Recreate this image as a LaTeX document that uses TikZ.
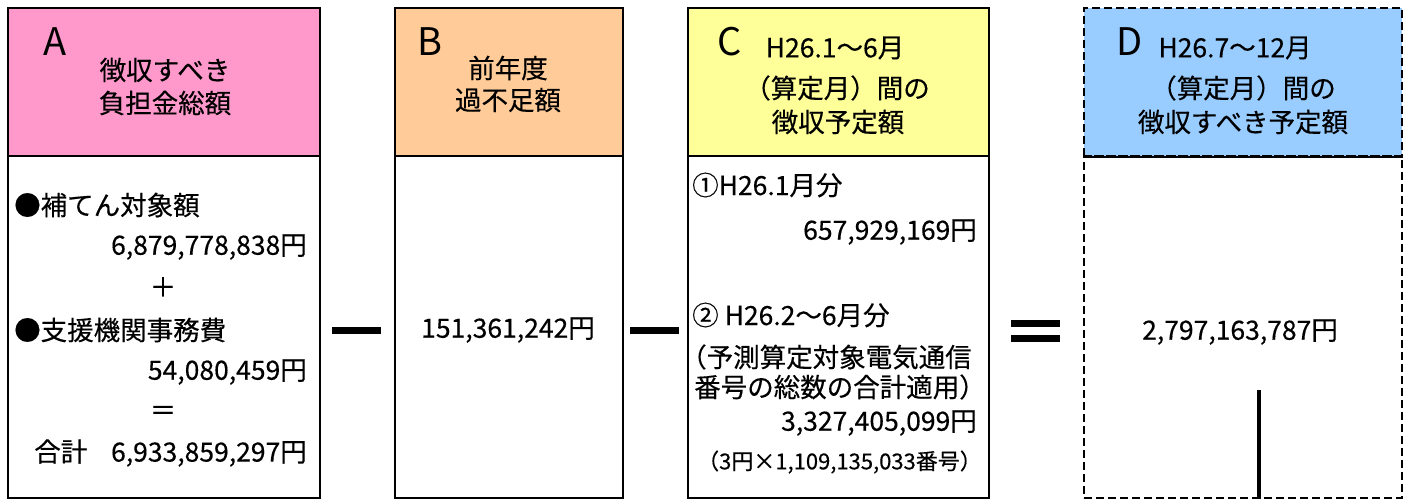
\documentclass[tikz,border=0pt]{standalone}
\usepackage{fontspec}
\setmainfont{Noto Sans CJK JP}
\newfontfamily\jpfont{Noto Sans CJK JP}[FakeBold=0.35]
\definecolor{hpink}{HTML}{FF99CC}
\definecolor{horange}{HTML}{FFCC99}
\definecolor{hyellow}{HTML}{FFFF99}
\definecolor{hblue}{HTML}{99CCFF}
\begin{document}
\begin{tikzpicture}[x=1pt,y=-1pt,
  boxpart/.style={draw, line width=2pt, inner sep=0pt, anchor=north west},
  dashpart/.style={boxpart, dash pattern=on 8pt off 4pt},
  txt/.style={font=\jpfont\fontsize{26.5}{30}\selectfont, inner sep=0pt},
  smalltxt/.style={font=\jpfont\fontsize{22}{24}\selectfont, inner sep=0pt},
  letter/.style={font=\fontsize{38}{40}\selectfont, inner sep=0pt},
  opbar/.style={fill=black, inner sep=0pt, minimum width=49pt, minimum height=7pt}]
\useasboundingbox (0,0) rectangle (1407,499);
% boxes
\node[boxpart, fill=hpink, minimum width=312pt, minimum height=148pt] (Ah) at (7,7) {};
\node[boxpart, minimum width=312pt, minimum height=342pt] (Ab) at (7,155) {};
\node[boxpart, fill=horange, minimum width=228pt, minimum height=148pt] (Bh) at (394,7) {};
\node[boxpart, minimum width=228pt, minimum height=342pt] (Bb) at (394,155) {};
\node[boxpart, fill=hyellow, minimum width=301pt, minimum height=148pt] (Ch) at (687,7) {};
\node[boxpart, minimum width=301pt, minimum height=342pt] (Cb) at (687,155) {};
\node[dashpart, fill=hblue, minimum width=318pt, minimum height=148pt] (Dh) at (1083,7) {};
\node[dashpart, minimum width=318pt, minimum height=342pt] (Db) at (1083,155) {};
\draw[line width=2pt] (Dh.south west) -- (Dh.south east);
% header texts
\node[letter] (la) at (55,42) {A};
\node[txt] (a1) at (165,70) {徴収すべき};
\node[txt] (a2) at (165,103) {負担金総額};
\node[letter] (lb) at (430,42) {B};
\node[txt] (b1) at (508,68) {前年度};
\node[txt] (b2) at (508,100) {過不足額};
\node[letter] (lc) at (730,42) {C};
\node[txt] (c1) at (835,48) {H26.1～6月};
\node[txt] (c2) at (837,88) {（算定月）間の};
\node[txt] (c3) at (838,122) {徴収予定額};
\node[letter] (ld) at (1130,42) {D};
\node[txt] (d1) at (1235,48) {H26.7～12月};
\node[txt] (d2) at (1243,88) {（算定月）間の};
\node[txt] (d3) at (1243,122) {徴収すべき予定額};
% body A
\node[txt, anchor=west] (a3) at (14,205) {●補てん対象額};
\node[txt, anchor=east] (a4) at (307,247) {6,879,778,838円};
\node[txt] (a5) at (163,287) {＋};
\node[txt, anchor=west] (a6) at (14,330) {●支援機関事務費};
\node[txt, anchor=east] (a7) at (307,372) {54,080,459円};
\node[txt] (a8) at (163,413) {＝};
\node[txt, anchor=east] (a9) at (307,453) {合計\hspace{0.9em}6,933,859,297円};
% body B
\node[txt] (b3) at (508,330) {151,361,242円};
% body C
\node[txt, anchor=west] (c4) at (692,185) {①H26.1月分};
\node[txt, anchor=east] (c5) at (977,232) {657,929,169円};
\node[txt, anchor=west] (c6) at (692,315) {② H26.2～6月分};
\node[txt, anchor=west] (c7) at (680,357) {（予測算定対象電気通信};
\node[txt] (c8) at (840,387) {番号の総数の合計適用）};
\node[txt, anchor=east] (c9) at (977,423) {3,327,405,099円};
\node[smalltxt, anchor=east] (c10) at (982,462) {（3円×1,109,135,033番号）};
% body D
\node[txt] (d4) at (1240,332) {2,797,163,787円};
\coordinate (dl) at (1259,390);
\draw[line width=3.5pt] (dl) -- (dl |- Db.south);
% operators
\node[opbar] (m1) at (356.5,330) {};
\node[opbar] (m2) at (654.5,330) {};
\node[opbar] (e1) at (1035.5,323) {};
\node[opbar] (e2) at (1035.5,338) {};
\end{tikzpicture}
\end{document}
